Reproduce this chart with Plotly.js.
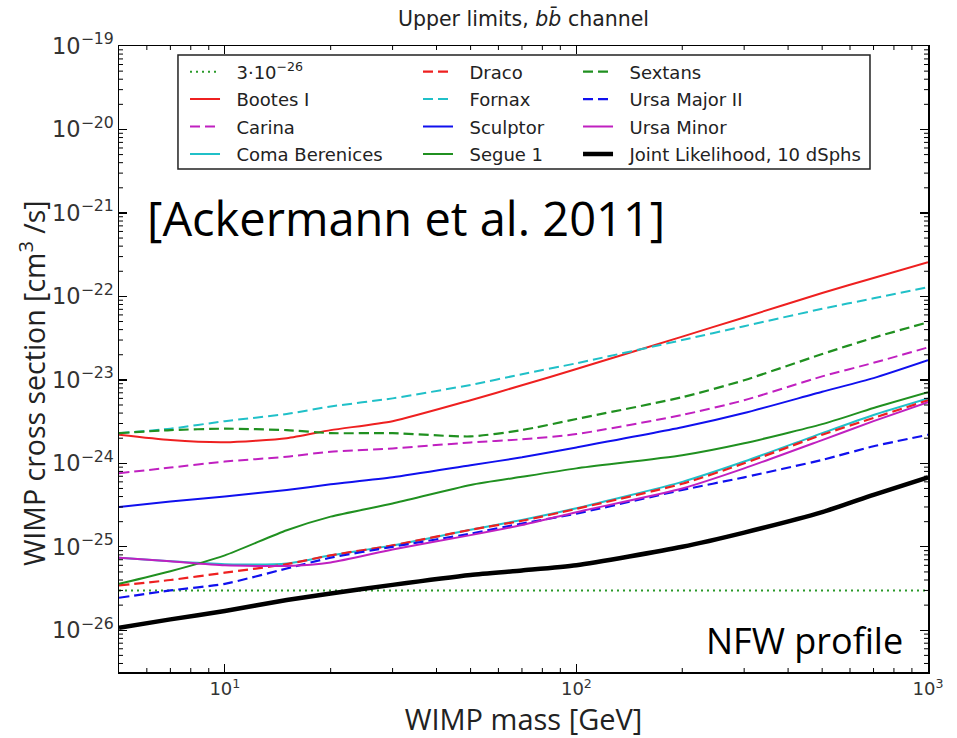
<!DOCTYPE html>
<html>
<head>
<meta charset="utf-8">
<script src="https://cdn.plot.ly/plotly-3.0.1.min.js"></script>
<style>
  html, body { margin: 0; padding: 0; background: #fff; }
  #chart { width: 957px; height: 738px; }
</style>
</head>
<body>
<div id="chart"></div>
<script>
// WIMP mass grid [GeV]
const masses = [5, 7, 10, 15, 20, 30, 50, 70, 100, 200, 300, 500, 700, 1000];

// 95% upper limits on <sigma v> [cm^3/s], b-bbar channel, NFW profile
const thermal = 3e-26;
const bootesI = [2.2e-24, 1.9e-24, 1.79e-24, 2.0e-24, 2.5e-24, 3.2e-24, 5.7e-24, 8.6e-24, 1.35e-23, 3.3e-23, 5.6e-23, 1.1e-22, 1.66e-22, 2.57e-22];
const carina = [7.6e-25, 8.9e-25, 1.05e-24, 1.2e-24, 1.38e-24, 1.51e-24, 1.78e-24, 1.94e-24, 2.24e-24, 3.8e-24, 5.7e-24, 1.1e-23, 1.6e-23, 2.45e-23];
const comaBerenices = [7.4e-26, 6.7e-26, 6.2e-26, 6.3e-26, 7.9e-26, 1.04e-25, 1.6e-25, 2.1e-25, 2.9e-25, 6.0e-25, 1.05e-24, 2.3e-24, 3.8e-24, 6.0e-24];
const draco = [3.45e-26, 4.0e-26, 4.9e-26, 6.2e-26, 7.9e-26, 1.04e-25, 1.6e-25, 2.05e-25, 2.85e-25, 5.7e-25, 1.0e-24, 2.2e-24, 3.5e-24, 5.7e-24];
const fornax = [2.3e-24, 2.6e-24, 3.2e-24, 3.9e-24, 4.8e-24, 6.0e-24, 8.7e-24, 1.17e-23, 1.58e-23, 3.0e-23, 4.4e-23, 7.1e-23, 9.5e-23, 1.29e-22];
const sculptor = [3.0e-25, 3.5e-25, 4.0e-25, 4.8e-25, 5.6e-25, 6.8e-25, 9.5e-25, 1.18e-24, 1.55e-24, 2.7e-24, 4.0e-24, 7.2e-24, 1.05e-23, 1.72e-23];
const segue1 = [3.6e-26, 5.1e-26, 7.9e-26, 1.58e-25, 2.3e-25, 3.3e-25, 5.5e-25, 6.9e-25, 8.7e-25, 1.25e-24, 1.74e-24, 2.95e-24, 4.6e-24, 7.1e-24];
const sextans = [2.3e-24, 2.5e-24, 2.6e-24, 2.5e-24, 2.3e-24, 2.3e-24, 2.1e-24, 2.5e-24, 3.4e-24, 6.2e-24, 9.9e-24, 2.04e-23, 3.2e-23, 4.9e-23];
const ursaMajorII = [2.45e-26, 3.0e-26, 3.6e-26, 5.5e-26, 7.4e-26, 1.0e-25, 1.44e-25, 1.9e-25, 2.5e-25, 4.8e-25, 6.8e-25, 1.1e-24, 1.6e-24, 2.2e-24];
const ursaMinor = [7.4e-26, 6.7e-26, 6.0e-26, 5.9e-26, 6.5e-26, 9.3e-26, 1.38e-25, 1.82e-25, 2.6e-25, 5.0e-25, 8.7e-25, 1.9e-24, 3.2e-24, 5.4e-24];
const jointLikelihood = [1.07e-26, 1.35e-26, 1.7e-26, 2.3e-26, 2.75e-26, 3.5e-26, 4.6e-26, 5.2e-26, 6.0e-26, 1.0e-25, 1.48e-25, 2.6e-25, 4.2e-25, 6.8e-25];

// axis extents and major tick labels
const xRange = [5, 1000];
const yRange = [10 ** -26.5, 1e-19];
const xTickVals = [10, 100, 1000];
const xTickText = ['10<sup>1</sup>', '10<sup>2</sup>', '10<sup>3</sup>'];

// minor tick positions: 2..9 times each power of ten inside the range
function minorTicks(lo, hi) {
  const out = [];
  for (let e = Math.floor(Math.log10(lo)); e <= Math.ceil(Math.log10(hi)); e++) {
    for (let d = 2; d <= 9; d++) {
      const v = d * Math.pow(10, e);
      if (v > lo && v < hi) out.push(v);
    }
  }
  return out;
}

const MINOR_LEN = 4;
const tickLine = { color: '#000', width: 1 };

// short inward ticks on all four frame sides, placed through the axis scales
function minorTickShapes() {
  const shapes = [];
  minorTicks(xRange[0], xRange[1]).forEach(v => {
    shapes.push({ type: 'line', xref: 'x', yref: 'paper', ysizemode: 'pixel', yanchor: 0,
                  x0: v, x1: v, y0: 0, y1: MINOR_LEN, line: tickLine });
    shapes.push({ type: 'line', xref: 'x', yref: 'paper', ysizemode: 'pixel', yanchor: 1,
                  x0: v, x1: v, y0: 0, y1: -MINOR_LEN, line: tickLine });
  });
  minorTicks(yRange[0], yRange[1]).forEach(v => {
    shapes.push({ type: 'line', xref: 'paper', yref: 'y', xsizemode: 'pixel', xanchor: 0,
                  x0: 0, x1: MINOR_LEN, y0: v, y1: v, line: tickLine });
    shapes.push({ type: 'line', xref: 'paper', yref: 'y', xsizemode: 'pixel', xanchor: 1,
                  x0: 0, x1: -MINOR_LEN, y0: v, y1: v, line: tickLine });
  });
  return shapes;
}

const DASH = '10px,5px';
const FONT = 'DejaVu Sans, sans-serif';
const TEXT_FONT = 'Open Sans, sans-serif';
const PAD = '\u00a0\u00a0';

function curve(name, y, color, dash, width, legend) {
  return {
    type: 'scatter', mode: 'lines', name: PAD + name, x: masses, y: y,
    line: { color: color, dash: dash, width: width, shape: 'spline', smoothing: 0.6 },
    legend: legend, legendgroup: name, hoverinfo: 'skip'
  };
}

const traces = [
  {
    type: 'scatter', mode: 'lines', name: PAD + '3·10<sup>−26</sup>',
    x: xRange, y: [thermal, thermal],
    line: { color: '#2a9a2a', dash: '2px,4px', width: 2 },
    legend: 'legend', legendgroup: 'thermal', hoverinfo: 'skip'
  },
  curve('Bootes I', bootesI, '#ee2020', 'solid', 2, 'legend'),
  curve('Carina', carina, '#c020c0', DASH, 2, 'legend'),
  curve('Coma Berenices', comaBerenices, '#20c0c8', 'solid', 2, 'legend'),
  curve('Draco', draco, '#ee2020', DASH, 2.2, 'legend2'),
  curve('Fornax', fornax, '#20c0c8', DASH, 2, 'legend2'),
  curve('Sculptor', sculptor, '#1010ee', 'solid', 2, 'legend2'),
  curve('Segue 1', segue1, '#209020', 'solid', 2, 'legend2'),
  curve('Sextans', sextans, '#209020', DASH, 2.2, 'legend3'),
  curve('Ursa Major II', ursaMajorII, '#1010ee', DASH, 2.2, 'legend3'),
  curve('Ursa Minor', ursaMinor, '#c020c0', 'solid', 2, 'legend3'),
  curve('Joint Likelihood, 10 dSphs', jointLikelihood, '#000000', 'solid', 4.5, 'legend3')
];

const legendCommon = {
  bgcolor: 'rgba(0,0,0,0)', borderwidth: 0,
  font: { family: FONT, size: 18, color: '#222' },
  xanchor: 'left', yanchor: 'top', y: 0.988,
  tracegroupgap: 1, itemwidth: 30
};

const axisCommon = {
  type: 'log', showgrid: false, zeroline: false,
  showline: true, linecolor: '#000', linewidth: 1.5, mirror: 'allticks',
  ticks: 'inside', ticklen: 8, tickwidth: 1.3, tickcolor: '#000',
  exponentformat: 'power',
  tickfont: { family: FONT, size: 18, color: '#333' }
};

const layout = {
  width: 957, height: 738,
  margin: { l: 119, r: 29, t: 46, b: 66 },
  paper_bgcolor: '#fff', plot_bgcolor: '#fff',
  font: { family: FONT, color: '#222' },
  showlegend: true,
  title: {
    text: 'Upper limits, <i>b</i><i>b\u0304</i> channel',
    font: { family: FONT, size: 20.5, color: '#222' },
    x: 0.547, xanchor: 'center', y: 0.975, yanchor: 'middle'
  },
  xaxis: Object.assign({}, axisCommon, {
    range: [Math.log10(xRange[0]), Math.log10(xRange[1])],
    tickmode: 'array', tickvals: xTickVals, ticktext: xTickText,
    title: { text: 'WIMP mass [GeV]', font: { family: TEXT_FONT, size: 29, color: '#222' }, standoff: 2 }
  }),
  yaxis: Object.assign({}, axisCommon, {
    range: [Math.log10(yRange[0]), Math.log10(yRange[1])],
    dtick: 1
  }),
  legend: Object.assign({}, legendCommon, { x: 0.0816 }),
  legend2: Object.assign({}, legendCommon, { x: 0.3696 }),
  legend3: Object.assign({}, legendCommon, { x: 0.5674 }),
  shapes: [{
    type: 'rect', xref: 'paper', yref: 'paper',
    x0: 0.0729, x1: 0.9283, y0: 0.8035, y1: 0.9856,
    line: { color: '#222', width: 1.5 }, fillcolor: 'rgba(255,255,255,1)', layer: 'below'
  }].concat(minorTickShapes()),
  annotations: [
    {
      text: 'WIMP cross section [cm<sup>3</sup> /s]', xref: 'paper', yref: 'paper',
      x: -0.1063, y: 0.4617, xanchor: 'center', yanchor: 'middle', textangle: -90, showarrow: false,
      font: { family: TEXT_FONT, size: 28.5, color: '#222' }
    },
    {
      text: '[Ackermann et al. 2011]', xref: 'paper', yref: 'paper',
      x: 0.032, y: 0.725, xanchor: 'left', yanchor: 'middle', showarrow: false,
      font: { family: TEXT_FONT, size: 47, color: '#000' }
    },
    {
      text: 'NFW profile', xref: 'paper', yref: 'paper',
      x: 0.9716, y: 0.051, xanchor: 'right', yanchor: 'middle', showarrow: false,
      font: { family: TEXT_FONT, size: 36, color: '#000' }
    }
  ]
};

Plotly.newPlot('chart', traces, layout, { displayModeBar: false, staticPlot: true });
</script>
</body>
</html>
